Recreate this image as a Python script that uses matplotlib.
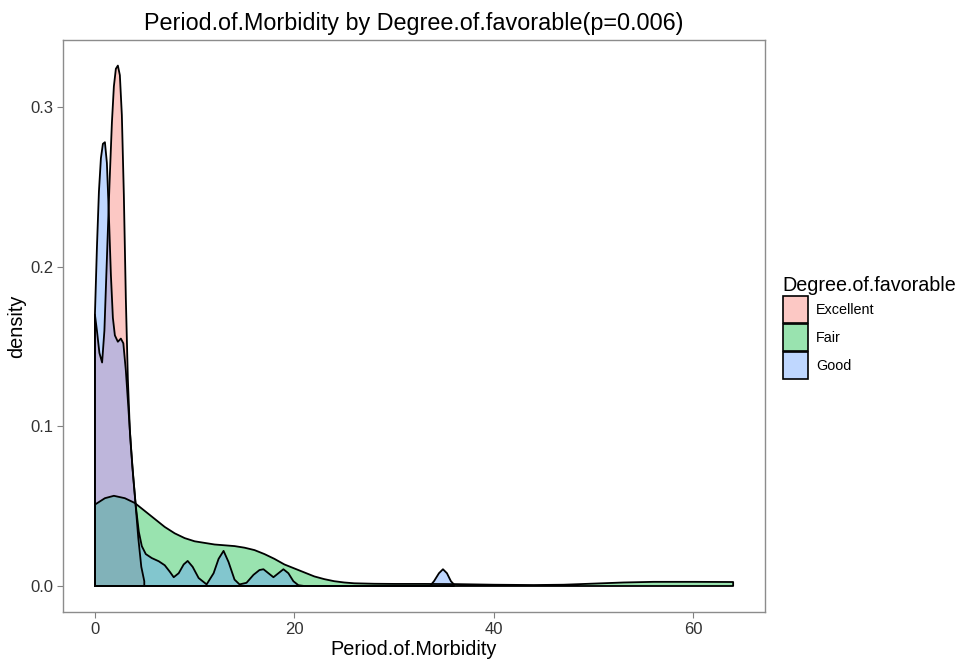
import numpy as np
import matplotlib.pyplot as plt
from matplotlib.patches import Patch
from matplotlib.colors import to_rgba

plt.rcParams['font.family'] = ['Liberation Sans', 'DejaVu Sans']

# grupos y colores (paleta por defecto de ggplot)
groups = ['Excellent', 'Fair', 'Good']
colors = ['#F8766D', '#00BA38', '#619CFF']

# curvas de densidad
excellent_x = [0, 0.2, 0.45, 0.72, 0.95, 1.2, 1.45, 1.7, 1.9, 2.1, 2.3, 2.5, 2.7,
               2.9, 3.1, 3.3, 3.5, 3.75, 4.05, 4.35, 4.65, 4.95]
excellent_y = [0.170, 0.160, 0.146, 0.140, 0.160, 0.205, 0.250, 0.290, 0.313, 0.324,
               0.326, 0.320, 0.295, 0.245, 0.180, 0.130, 0.098, 0.075, 0.053, 0.030,
               0.012, 0.003]

fair_x = [0, 1, 1.9, 3, 4, 5, 6, 7, 8, 9, 10, 11, 12, 13, 14, 15, 16, 17, 18, 19,
          20, 21, 22, 23, 24, 25, 26, 28, 30, 33, 36, 40, 44, 47, 50, 53, 56, 60, 64]
fair_y = [0.051, 0.055, 0.0565, 0.055, 0.052, 0.047, 0.042, 0.037, 0.033, 0.030,
          0.028, 0.027, 0.026, 0.0255, 0.025, 0.024, 0.0225, 0.020, 0.017, 0.0135,
          0.011, 0.0085, 0.006, 0.0043, 0.003, 0.0022, 0.0017, 0.0014, 0.0013,
          0.0013, 0.0012, 0.0008, 0.0006, 0.0008, 0.0015, 0.0022, 0.0026, 0.0026,
          0.0025]

good_x = [0, 0.2, 0.4, 0.6, 0.8, 1.0, 1.2, 1.4, 1.6, 1.8, 2.0, 2.3, 2.6, 2.85, 3.1,
          3.35, 3.6, 3.85, 4.1, 4.4, 4.7, 5.1, 5.7, 6.4, 7.0, 7.5, 7.9, 8.4, 8.9,
          9.3, 9.8, 10.4, 11.2, 11.9, 12.4, 12.9, 13.4, 14.0, 14.5, 15.2, 15.9,
          16.5, 16.9, 17.4, 17.9, 18.4, 18.9, 19.4, 19.9, 20.4, 21.0, 33.6, 34.0,
          34.5, 34.9, 35.3, 35.7, 36.0]
good_y = [0.170, 0.212, 0.247, 0.268, 0.277, 0.278, 0.265, 0.232, 0.195, 0.168,
          0.157, 0.153, 0.155, 0.152, 0.135, 0.112, 0.088, 0.068, 0.050, 0.034,
          0.025, 0.020, 0.0175, 0.0155, 0.013, 0.009, 0.0055, 0.008, 0.0135, 0.0157,
          0.012, 0.005, 0.001, 0.008, 0.017, 0.022, 0.015, 0.004, 0.001, 0.002,
          0.007, 0.0100, 0.0105, 0.008, 0.0055, 0.008, 0.0105, 0.008, 0.003, 0.0005,
          0.0, 0.0, 0.003, 0.008, 0.0105, 0.008, 0.003, 0.001]

curves = [(excellent_x, excellent_y), (fair_x, fair_y), (good_x, good_y)]

fig = plt.figure(figsize=(9.71, 6.62), dpi=100)
ax = fig.add_axes([0.0649, 0.0755, 0.723, 0.864])

for (xs, ys), c in zip(curves, colors):
    px = [xs[0]] + list(xs) + [xs[-1]]
    py = [0] + list(ys) + [0]
    ax.fill(px, py, facecolor=to_rgba(c, 0.4), edgecolor='none')
    ax.plot(px + [px[0]], py + [0], color='black', lw=1.3, solid_joinstyle='round')

ax.set_xlim(-3.2, 67.2)
ax.set_ylim(-0.0163, 0.342)
ax.set_xticks([0, 20, 40, 60])
ax.set_yticks([0.0, 0.1, 0.2, 0.3])
ax.set_yticklabels(['0.0', '0.1', '0.2', '0.3'])
ax.tick_params(colors='#808080', labelcolor='#333333', labelsize=12, length=4, pad=3)
for s in ax.spines.values():
    s.set_color('#8c8c8c')
    s.set_linewidth(1.0)

ax.set_xlabel('Period.of.Morbidity', fontsize=14.3, labelpad=2)
ax.set_ylabel('density', fontsize=14.3, labelpad=3)
ax.set_title('Period.of.Morbidity by Degree.of.favorable(p=0.006)', fontsize=16.8, pad=7)

# claves con relleno transparente y borde negro opaco
handles = [Patch(facecolor=to_rgba(c, 0.4), edgecolor='black', lw=1.2) for c in colors]
leg = ax.legend(handles, groups, title='Degree.of.favorable', loc='center left',
                bbox_to_anchor=(0.806, 0.505), bbox_transform=fig.transFigure,
                frameon=False, fontsize=10.4, title_fontsize=14.2, handlelength=1.75,
                handleheight=2.5, labelspacing=0.07, handletextpad=0.55,
                borderpad=0, borderaxespad=0, alignment='left')

fig.savefig('out.png', dpi=100)
